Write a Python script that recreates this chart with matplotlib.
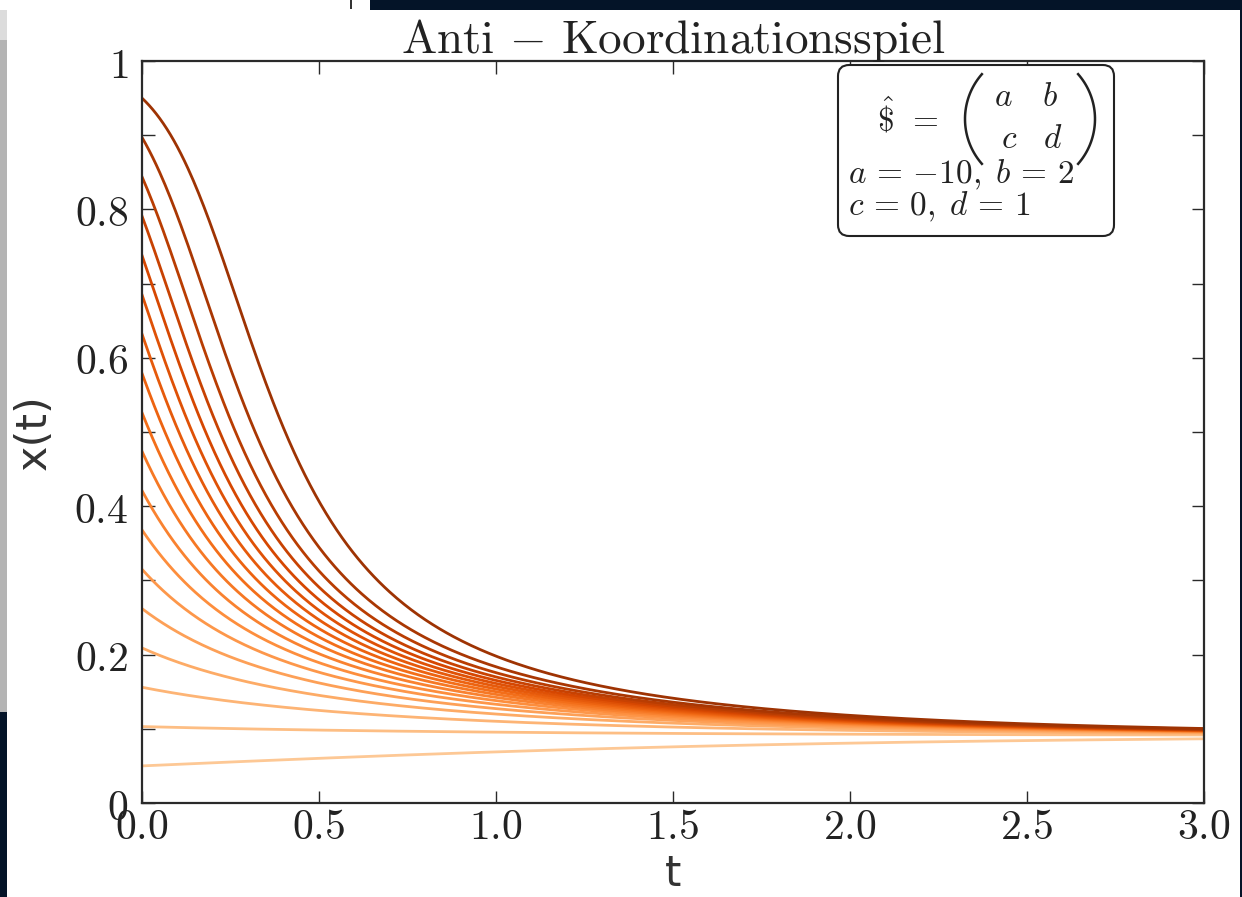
import numpy as np
import matplotlib.pyplot as plt
from matplotlib.patches import Rectangle, FancyBboxPatch
from matplotlib.lines import Line2D

# ---------------------------------------------
# Daten: Auszahlungsmatrix und Anfangswerte x(0)
# ---------------------------------------------
a, b, c, d = -10, 2, 0, 1
x0_values = [0.05, 0.103, 0.156, 0.209, 0.262, 0.315, 0.368, 0.421, 0.474,
             0.526, 0.579, 0.632, 0.685, 0.738, 0.791, 0.844, 0.897, 0.95]
t_max = 3.0

x_ticks = [0.0, 0.5, 1.0, 1.5, 2.0, 2.5, 3.0]
x_ticklabels = ["0.0", "0.5", "1.0", "1.5", "2.0", "2.5", "3.0"]
y_ticks = [0.0, 0.1, 0.2, 0.3, 0.4, 0.5, 0.6, 0.7, 0.8, 0.9, 1.0]
y_ticklabels = ["0", "", "0.2", "", "0.4", "", "0.6", "", "0.8", "", "1"]


# Replikatorgleichung  dx/dt = x(1-x)[(a-c)x + (b-d)(1-x)]
def rhs(x):
    return x * (1 - x) * ((a - c) * x + (b - d) * (1 - x))


def solve(x0, t):
    xs = np.empty_like(t)
    xs[0] = x0
    h = t[1] - t[0]
    for i in range(len(t) - 1):
        x = xs[i]
        k1 = rhs(x)
        k2 = rhs(x + 0.5 * h * k1)
        k3 = rhs(x + 0.5 * h * k2)
        k4 = rhs(x + h * k3)
        xs[i + 1] = x + h / 6 * (k1 + 2 * k2 + 2 * k3 + k4)
    return xs


plt.rcParams["mathtext.fontset"] = "cm"

W, H = 1242, 897
fig = plt.figure(figsize=(W / 100, H / 100), dpi=100, facecolor="#041428")


def fx(px):
    return px / W


def fy(py):
    return 1 - py / H


def bg_rect(x0, y0, x1, y1, color):
    # Rechteck in Bildpixeln (oben links = 0,0)
    fig.patches.append(Rectangle((fx(x0), fy(y1)), fx(x1) - fx(x0), (y1 - y0) / H,
                                 transform=fig.transFigure, facecolor=color,
                                 edgecolor="none", zorder=-5))


# Hintergrund (Bildschirmfoto)
bg_rect(7, 10, 1240, 897, "white")
bg_rect(0, 0, 370, 10, "white")
bg_rect(0, 40, 7, 712, "#b4b4b4")
bg_rect(0, 10, 7, 40, "#dcdcdc")
bg_rect(350, 0, 352, 9, "#333333")

ax = fig.add_axes([fx(142), fy(803), fx(1204) - fx(142), fy(61) - fy(803)])
ax.set_facecolor("white")

t = np.linspace(0, t_max, 601)
cmap = plt.get_cmap("Oranges")
colors = cmap(np.linspace(0.28, 0.9, len(x0_values)))
for x0, col in zip(x0_values, colors):
    ax.plot(t, solve(x0, t), color=col, lw=2)

ax.set_xlim(0, t_max)
ax.set_ylim(0, 1)
ax.set_xticks(x_ticks)
ax.set_xticklabels(["$%s$" % s for s in x_ticklabels])
ax.set_yticks(y_ticks)
ax.set_yticklabels(["$%s$" % s if s else "" for s in y_ticklabels])
ax.tick_params(direction="in", length=9, width=1, labelsize=30,
               top=True, right=True, colors="#2a2a2a", labelcolor="#222222")
ax.tick_params(axis="x", pad=2)
ax.tick_params(axis="y", pad=10)
for sp in ax.spines.values():
    sp.set_linewidth(1.6)
    sp.set_color("#2a2a2a")

ax.set_title(r"$\mathrm{Anti}\, - \,\mathrm{Koordinationsspiel}$", fontsize=34,
             pad=6, color="#222222")
ax.set_xlabel("t", fontsize=30, color="#333333", labelpad=4)
ax.set_ylabel("x(t)", fontsize=31, color="#333333", labelpad=14)

# Kasten mit der Auszahlungsmatrix
box = FancyBboxPatch((fx(838), fy(236)), fx(1114) - fx(838), fy(65) - fy(236),
                     boxstyle="round,pad=0,rounding_size=0.009",
                     mutation_aspect=W / H, transform=fig.transFigure,
                     facecolor="white", edgecolor="#222222", lw=1.5, zorder=5)
fig.patches.append(box)

txt = dict(fontsize=24, color="#222222", zorder=6)
fig.text(fx(908), fy(118), r"$\hat{\$}\;\,=$", ha="center", va="center", **txt)
fig.text(fx(1003), fy(97), r"$a$", ha="center", va="center", **txt)
fig.text(fx(1050), fy(97), r"$b$", ha="center", va="center", **txt)
fig.text(fx(1009), fy(138), r"$c$", ha="center", va="center", **txt)
fig.text(fx(1053), fy(138), r"$d$", ha="center", va="center", **txt)

# grosse Klammern der Matrix
theta = np.linspace(-0.72, 0.72, 40)
R = 68
for cx, sgn in ((1033, -1), (1027, 1)):
    px = cx + sgn * R * np.cos(theta)
    py = 119 + R * np.sin(theta)
    fig.lines.append(Line2D(fx(px), fy(py), transform=fig.transFigure,
                            color="#222222", lw=1.8, zorder=6))

fig.text(fx(848), fy(175), r"$a \,=\, {-10},\; b \,=\, 2$",
         ha="left", va="center", **txt)
fig.text(fx(848), fy(207), r"$c \,=\, 0,\; d \,=\, 1$",
         ha="left", va="center", **txt)

fig.savefig("out.png", dpi=100, facecolor=fig.get_facecolor())
